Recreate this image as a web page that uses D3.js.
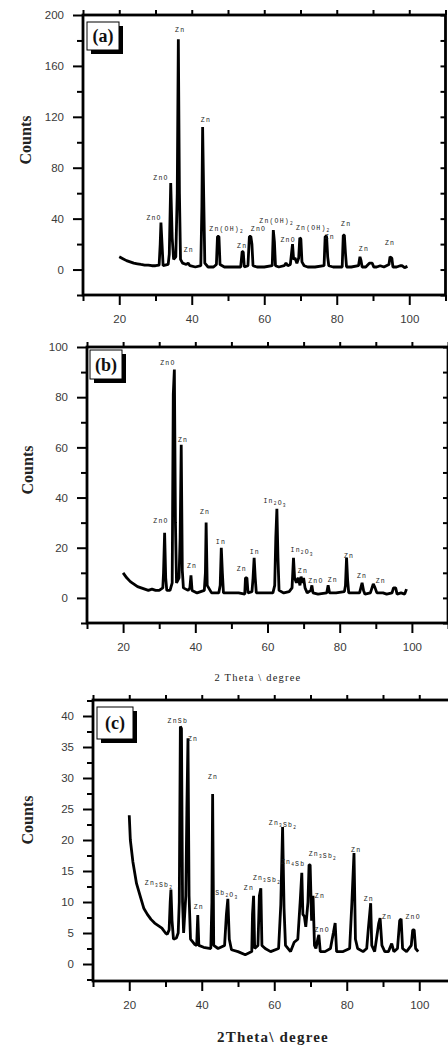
<!DOCTYPE html>
<html>
<head>
<meta charset="utf-8">
<script src="https://cdn.jsdelivr.net/npm/d3@7/dist/d3.min.js"></script>
<style>
  body { margin: 0; background: #fff; }
  svg { display: block; }
</style>
</head>
<body>
<div id="chart"></div>
<script>
/* ---------------- data ---------------- */

// (a) Zn / ZnO / Zn(OH)2
const thetaA = [20,21,22,23,24,25,26,27,28,29,30,31,31.3,31.5,31.8,32.1,33.5,33.8,34.2,34.6,35.0,35.6,36.0,36.3,36.6,36.9,37.5,38.5,39,39.5,41,42.5,42.8,43.0,43.3,43.6,44.5,46,46.8,47.1,47.5,47.8,49,51,53.5,53.9,54.2,54.5,55.5,55.9,56.3,56.6,56.9,58,60,62.2,62.5,62.8,63.1,64,65.5,66,66.5,67.2,67.5,67.8,68.1,68.5,69,69.5,69.8,70.1,70.4,71,72,74,76.5,76.8,77.2,77.5,77.8,79,81.5,81.8,82.1,82.4,82.7,84,86,86.4,86.7,87,88,89,89.8,90.2,91,92,93,94.4,94.7,95.2,95.5,96.5,97.5,98,98.7,99.5]
const countsA = [10,8.5,7,6,5,4.5,4,3.5,3.5,3,3,3.5,20,37,20,3,4,12,68,25,8,10,60,181,60,8,5,4,5,3,2,3,50,112,57,5,2,2,4,26,26,4,2,2,2,14,14,2,3,26,26,20,3,2,2,3,31,22,3,2,3,5,3,4,12,20,8,9,5,9,25,24,6,3,2,2,3,26,26,10,3,2,2,27,27,13,2,2,3,10,7,2,2,5,5,2,2,3,2,4,10,9,2,2,3,3,1.5,2.5]
const labelTextA = ['Zn','Zn','ZnO','ZnO','Zn','Zn(OH)_2','ZnO','Zn','Zn(OH)_2','Zn(OH)_2','ZnO','Zn','Zn','Zn','Zn']
const labelThetaA = [36.8,43.9,31.5,29.6,39.2,49.6,58.4,53.9,63.4,73.5,66.6,78.1,82.6,87.5,94.7]
const labelCountA = [189,117.6,72,40.8,15.7,32,32,18.8,38.4,33,23.5,25.9,36,16.5,21]

// (b) Zn / ZnO / In / In2O3
const thetaB = [20,21,22,23,24,25,26,27,28,29,30,31,31.2,31.5,31.8,32.1,33,33.6,33.9,34.2,34.5,34.8,35.5,35.8,36.1,36.4,36.7,38,38.5,38.8,39.1,40.5,42.5,42.8,43.0,43.3,44.5,46.5,46.9,47.2,47.5,47.8,50,52,53.7,53.9,54.3,54.6,55.7,56.0,56.3,56.6,56.9,59,61.5,62,62.3,62.6,62.9,63.2,64.5,66,66.8,67.2,67.5,68,68.5,69,69.3,69.7,70,70.4,71,72,72.3,72.6,74,76.4,76.8,77.2,79,81.3,81.6,81.9,82.2,82.5,84,85.5,86.2,86.6,87,88.5,89.3,89.8,90.3,92,93,94.5,94.9,95.5,95.9,97,98,98.5]
const countsB = [10,8,6.5,5.5,4.5,4,3.5,3,3.5,3,3,4,10,26,8,3,3,6,81,91,30,6,8,24,61,11,4,3,4,9,3,2,3,10,30,5,2,2,5,20,10,2,2,2,1.5,8,8,2,2.5,8,16,8,2,2,2,5,24,35.5,16,3,2,2.5,4,16,8,6,8,5,8.5,6,8,4,2,3,5,2,1.5,2,5,2,2,2.5,5,16,7,2,2,2,6,3,1.5,2,5.6,4,2,2,1.5,2,4,4,1.5,2,1.5,3.5]
const labelTextB = ['ZnO','Zn','ZnO','Zn','In','Zn','Zn','In','In_2O_3','In_2O_3','Zn','ZnO','Zn','Zn','Zn','Zn']
const labelThetaB = [32.4,36.6,30.5,42.7,47.1,39.1,52.9,56.5,62.1,69.6,69.8,73.4,78.1,82.6,86.2,91.4]
const labelCountB = [93.7,63.1,31,34.5,22.6,13.1,11.9,18.3,38.9,19.4,11.1,7.1,7.5,17.1,9.1,7.1]

// (c) Zn / ZnSb / Zn3Sb2 / Sb2O3 / ZnO
const thetaC = [20,20.3,21,22,23,24,25,26,27,28,29,30,30.5,31,31.3,31.5,31.8,32.2,33,33.5,33.8,34.1,34.4,34.7,35,35.6,35.9,36.2,36.5,36.9,38,38.6,38.9,39.2,40.5,42.5,42.8,43.0,43.3,44.5,46.3,46.8,47.2,47.6,48.2,50,52,53.8,54.0,54.3,54.6,55.5,55.9,56.3,56.6,57.5,59,61.2,61.8,62.3,62.7,63.1,64.5,65.5,66.5,67.2,67.6,67.9,68.3,68.7,69.3,69.6,69.9,70.3,70.7,71.1,71.5,72,72.3,72.7,74,75.5,76.3,76.8,77.2,79,80.8,81.4,82.0,82.4,83,84.5,85.5,86,86.6,86.9,87.7,88.8,89.2,89.7,90.5,91.5,92.4,93,94,94.6,95,95.4,96.5,97.8,98.2,98.6,99,99.7]
const countsC = [24,20,16.5,13,11,9,8,7.2,6.6,6.2,5.8,5,4.8,5.5,10,12,7,4,4.2,5,10,38.3,38,10,5,11,25,36.4,11,4,3.2,3,7.9,3,2.7,2.5,10,27.4,3,2.5,3,8,10.5,4,2.3,2,1.5,2,8,11,2.5,3,11,12.2,3,2.5,2,2.5,9.5,22.1,9,3,2,3.5,4,10.5,14.7,8,7.7,6,10,16,16,7,11,3,2.5,4,4.7,2,2,2.5,5,6.6,2,2,2.5,9.7,17.9,4,2.5,2,2.5,6,9.8,3,2,6.5,7.4,3,2,2,3.3,2,2.5,7,7.3,2.5,2,3,5.5,5.5,2.5,2]
const labelTextC = ['ZnSb','Zn','Zn','Zn_3Sb_2','Zn','Sb_2O_3','Zn','Zn_3Sb_2','Zn_3Sb_2','Zn_4Sb','Zn_3Sb_2','Zn','Zn','ZnO','Zn','Zn','ZnO']
const labelThetaC = [33.4,37.6,43.1,28.2,39.2,46.9,53.0,58.0,62.4,65.2,73.4,82.6,72.6,73.2,86.1,91.1,98.3]
const labelCountC = [39.2,36.3,30.3,13.1,9.2,11.5,12.3,13.9,22.9,16.6,17.9,18.5,11.1,5.5,10.6,7.6,7.6]

// axis ticks
const xMajor = [20, 40, 60, 80, 100]
const xMinor = [10, 30, 50, 70, 90, 110]
const yMajorA = [0, 40, 80, 120, 160, 200], yMinorA = [-20, 20, 60, 100, 140, 180]
const yMajorB = [0, 20, 40, 60, 80, 100], yMinorB = [-10, 10, 30, 50, 70, 90]
const yMajorC = [0, 5, 10, 15, 20, 25, 30, 35, 40], yMinorC = [-2.5, 2.5, 7.5, 12.5, 17.5, 22.5, 27.5, 32.5, 37.5, 42.5]

/* ---------------- drawing ---------------- */
const W = 448, H = 1045

const svg = d3.select('#chart').append('svg')
    .attr('width', W)
    .attr('height', H)

function addLabel(g, str, px, py) {
    // "_" marks the next character as subscript
    let t = g.append('text')
        .attr('x', px)
        .attr('y', py)
        .attr('text-anchor', 'middle')
        .attr('font-family', '"Liberation Mono", "DejaVu Sans Mono", monospace')
        .attr('font-size', 6.5)
        .attr('letter-spacing', 1.2)
        .attr('fill', '#1a1a1a')
    let sub = false
    for (let i = 0; i < str.length; i++) {
        let c = str[i]
        if (c == '_') { sub = true; continue }
        if (sub) {
            t.append('tspan').attr('dy', 2).attr('font-size', 4.5).text(c)
            t.append('tspan').attr('dy', -2).text('')
            sub = false
        } else {
            t.append('tspan').text(c)
        }
    }
}

function drawPanel(p) {
    let x = d3.scaleLinear().domain([10, 110]).range([p.left, p.left + p.xw])
    let y = d3.scaleLinear().domain(p.ydom).range([p.bottom, p.top])
    let g = svg.append('g')

    // spectrum
    let pts = d3.zip(p.theta, p.counts)
    let line = d3.line().x(d => x(d[0])).y(d => y(d[1]))
    g.append('path')
        .datum(pts)
        .attr('d', line)
        .attr('fill', 'none')
        .attr('stroke', '#000')
        .attr('stroke-width', 2.8)
        .attr('stroke-linejoin', 'bevel')

    // peak labels
    for (let i = 0; i < p.lt.length; i++) {
        addLabel(g, p.lt[i], x(p.lx[i]), y(p.ly[i]) + 2.5)
    }

    // axes
    let tickStyle = sel => {
        sel.select('.domain').remove()
        sel.selectAll('line').attr('stroke', '#000').attr('stroke-width', 2)
        sel.selectAll('text')
            .attr('font-family', '"Liberation Sans", Arial, sans-serif')
            .attr('font-size', 11.5)
            .attr('fill', '#3a3a3a')
    }
    g.append('g').attr('transform', 'translate(' + p.left + ',0)')
        .call(d3.axisLeft(y).tickValues(p.yMajor).tickSize(10).tickPadding(9))
        .call(tickStyle)
    g.append('g').attr('transform', 'translate(' + p.left + ',0)')
        .call(d3.axisLeft(y).tickValues(p.yMinor).tickSize(6).tickFormat(''))
        .call(tickStyle)
    g.append('g').attr('transform', 'translate(' + (p.left + p.xw) + ',0)')
        .call(d3.axisLeft(y).tickValues(p.yMajor.concat(p.yMinor)).tickSize(5).tickFormat(''))
        .call(tickStyle)
    g.append('g').attr('transform', 'translate(0,' + p.bottom + ')')
        .call(d3.axisBottom(x).tickValues(xMajor).tickSize(10).tickPadding(10))
        .call(tickStyle)
    g.append('g').attr('transform', 'translate(0,' + p.bottom + ')')
        .call(d3.axisBottom(x).tickValues(xMinor).tickSize(6).tickFormat(''))
        .call(tickStyle)
    g.append('g').attr('transform', 'translate(0,' + p.top + ')')
        .call(d3.axisTop(x).tickValues(xMajor.concat(xMinor)).tickSize(5).tickFormat(''))
        .call(tickStyle)

    // frame
    g.append('rect')
        .attr('x', p.left).attr('y', p.top)
        .attr('width', p.xw).attr('height', p.bottom - p.top)
        .attr('fill', 'none')
        .attr('stroke', '#000')
        .attr('stroke-width', 2.8)

    // (a) / (b) / (c) box with shadow
    let b = p.box
    g.append('rect').attr('x', b[0] + 4).attr('y', b[1] + 4).attr('width', b[2]).attr('height', b[3]).attr('fill', '#000')
    g.append('rect').attr('x', b[0]).attr('y', b[1]).attr('width', b[2]).attr('height', b[3])
        .attr('fill', '#fff').attr('stroke', '#000').attr('stroke-width', 1)
    g.append('text')
        .attr('x', b[0] + b[2] / 2).attr('y', b[1] + b[3] / 2 + 6)
        .attr('text-anchor', 'middle')
        .attr('font-family', '"Liberation Serif", "Times New Roman", serif')
        .attr('font-weight', 'bold')
        .attr('font-size', 18)
        .attr('fill', '#111')
        .text(p.name)

    // y title
    g.append('text')
        .attr('transform', 'translate(' + p.yTitle[0] + ',' + p.yTitle[1] + ') rotate(-90)')
        .attr('text-anchor', 'middle')
        .attr('font-family', '"Liberation Serif", "Times New Roman", serif')
        .attr('font-weight', 'bold')
        .attr('font-size', 16)
        .attr('fill', '#222')
        .text('Counts')

    // x title
    if (p.xTitle) {
        g.append('text')
            .attr('x', p.xTitle[0]).attr('y', p.xTitle[1])
            .attr('text-anchor', 'middle')
            .attr('font-family', '"Liberation Serif", "Times New Roman", serif')
            .attr('font-weight', p.xTitle[4])
            .attr('font-size', p.xTitle[3])
            .attr('letter-spacing', p.xTitle[5])
            .attr('fill', '#222')
            .text(p.xTitle[2])
    }
}

drawPanel({
    name: '(a)', theta: thetaA, counts: countsA,
    lt: labelTextA, lx: labelThetaA, ly: labelCountA,
    left: 83, xw: 362.5, top: 15, bottom: 295, ydom: [-20, 200],
    yMajor: yMajorA, yMinor: yMinorA,
    box: [87, 22, 32, 28], yTitle: [31, 140]
})

drawPanel({
    name: '(b)', theta: thetaB, counts: countsB,
    lt: labelTextB, lx: labelThetaB, ly: labelCountB,
    left: 87, xw: 361, top: 347, bottom: 623, ydom: [-10, 100],
    yMajor: yMajorB, yMinor: yMinorB,
    box: [90, 350, 32, 29], yTitle: [33, 470],
    xTitle: [258, 681, '2 Theta \\ degree', 10.5, 'normal', 1.2]
})

drawPanel({
    name: '(c)', theta: thetaC, counts: countsC,
    lt: labelTextC, lx: labelThetaC, ly: labelCountC,
    left: 93, xw: 362.5, top: 700, bottom: 981, ydom: [-2.74, 42.58],
    yMajor: yMajorC, yMinor: yMinorC,
    box: [97, 707, 36, 32], yTitle: [33, 820],
    xTitle: [273, 1042, '2Theta\\ degree', 15, 'bold', 1.2]
})
</script>
</body>
</html>
